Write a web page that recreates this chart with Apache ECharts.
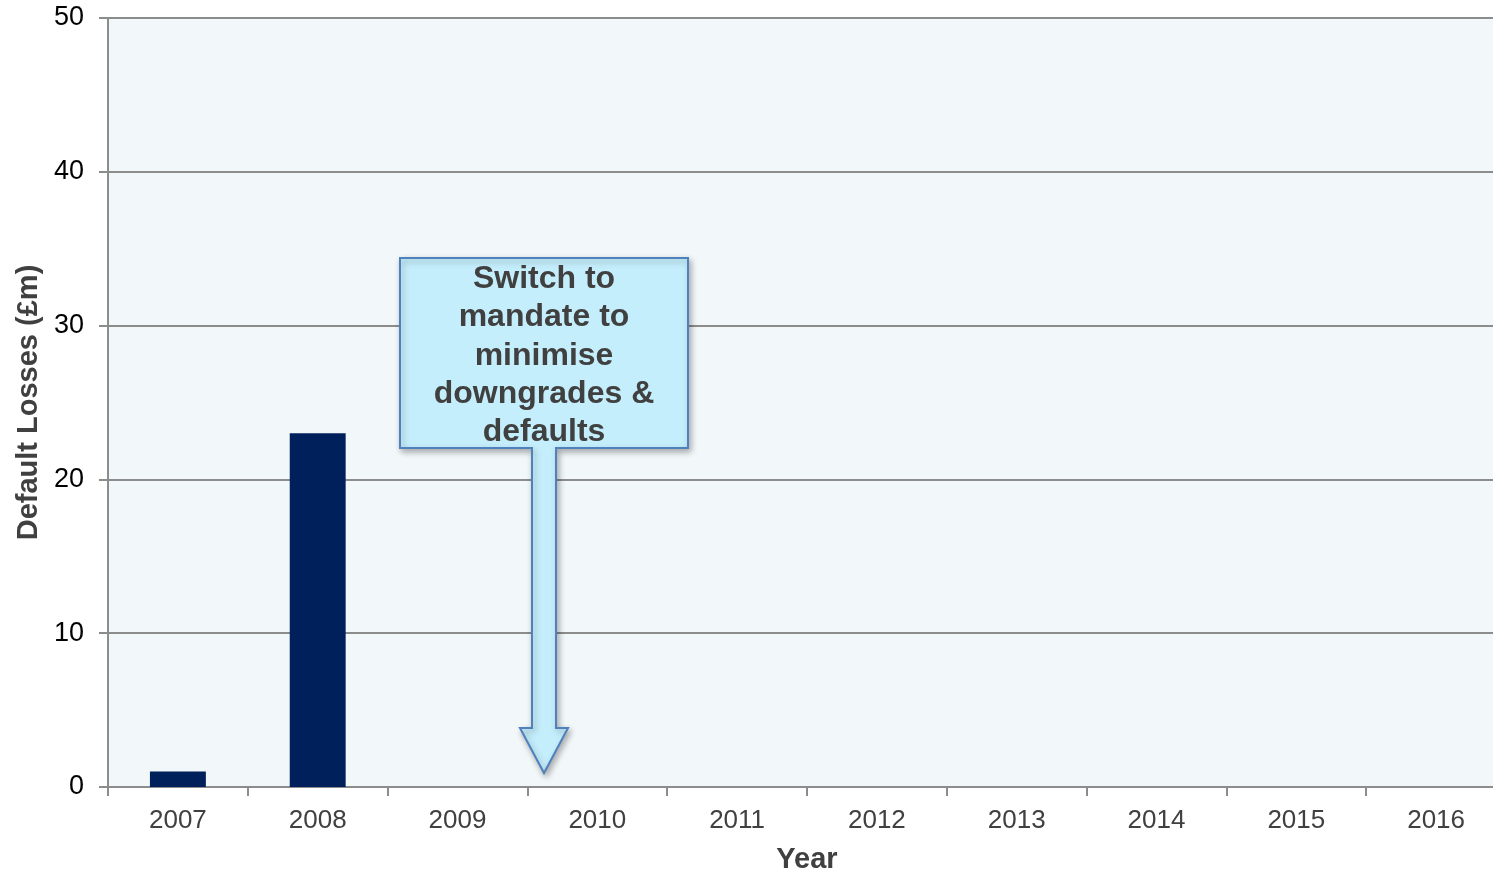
<!DOCTYPE html>
<html><head><meta charset="utf-8">
<script src="https://cdn.jsdelivr.net/npm/echarts@6/dist/echarts.min.js"></script>
<style>html,body{margin:0;padding:0;background:#fff}#c{width:1493px;height:872px}</style>
</head><body><div id="c"></div>
<script>
const years = ['2007','2008','2009','2010','2011','2012','2013','2014','2015','2016'];
const defaultLosses = [1, 23, 0, 0, 0, 0, 0, 0, 0, 0];
const yTicks = [0, 10, 20, 30, 40, 50];
const calloutText = 'Switch to\nmandate to\nminimise\ndowngrades &\ndefaults';

const chart = echarts.init(document.getElementById('c'));
const L = 108, T = 18, B = 85;
const boxFill = '#c5eefc', boxStroke = '#4f81bd';
chart.setOption({
  animation: false,
  grid: {left: L, right: -13, top: T, bottom: B, containLabel: false, outerBoundsMode: 'none', show: true, backgroundColor: '#f2f7fa', borderWidth: 0},
  xAxis: {
    type: 'category', data: years, boundaryGap: true,
    name: 'Year', nameLocation: 'middle', nameGap: 58,
    nameTextStyle: {fontFamily: 'Liberation Sans', fontSize: 29, fontWeight: 'bold', color: '#404040'},
    axisLine: {lineStyle: {color: '#8c8c8c', width: 2}},
    axisTick: {show: true, alignWithLabel: false, length: 9, lineStyle: {color: '#8c8c8c', width: 2}},
    axisLabel: {fontFamily: 'Liberation Sans', fontSize: 26, color: '#404040', margin: 21}
  },
  yAxis: {
    type: 'value', min: yTicks[0], max: yTicks[yTicks.length-1], interval: 10,
    name: 'Default Losses (£m)', nameLocation: 'middle', nameGap: 64, nameRotate: 90,
    nameTextStyle: {fontFamily: 'Liberation Sans', fontSize: 29, fontWeight: 'bold', color: '#404040'},
    axisLine: {show: true, lineStyle: {color: '#8c8c8c', width: 2}},
    axisTick: {show: true, length: 9, lineStyle: {color: '#8c8c8c', width: 2}},
    axisLabel: {fontFamily: 'Liberation Sans', fontSize: 27, color: '#000', margin: 24},
    splitLine: {lineStyle: {color: '#8c8c8c', width: 2}}
  },
  series: [{
    type: 'bar', data: defaultLosses, barWidth: '40%',
    itemStyle: {color: '#00205b'}
  }],
  graphic: [
    {
      type: 'polygon', z: 100,
      shape: {points: [[400,258],[688,258],[688,448],[556,448],[556,728],[568,728],[544,773],[520,728],[532,728],[532,448],[400,448]]},
      style: {fill: boxFill, stroke: boxStroke, lineWidth: 2, shadowBlur: 6, shadowColor: 'rgba(0,0,0,0.3)', shadowOffsetX: 2, shadowOffsetY: 3}
    },
    {
      type: 'text', z: 101, x: 544, y: 260,
      style: {text: calloutText, fill: '#404040', font: 'bold 32px "Liberation Sans"', align: 'center', verticalAlign: 'top', lineHeight: 38.3}
    }
  ]
});
</script></body></html>
